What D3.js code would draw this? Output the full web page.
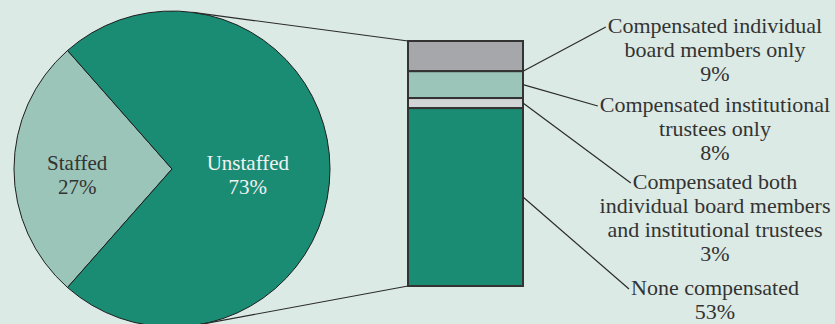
<!DOCTYPE html>
<html>
<head>
    <script src="https://d3js.org/d3.v7.min.js"></script>
    <style>
        body { margin: 0; background: #dbeae4; }
        svg { display: block; }
        text { font-family: "Liberation Serif", serif; }
    </style>
</head>
<body>
<svg id="chart" width="835" height="324"></svg>
<script>
    // pie: staffing
    const pieLabels = ["Staffed", "Unstaffed"];
    const pieValues = [27, 73];
    const pieColors = ["#9cc5b9", "#1b8c74"];

    // bar: breakdown of unstaffed, top to bottom
    const barLabels = [
        ["Compensated individual", "board members only"],
        ["Compensated institutional", "trustees only"],
        ["Compensated both", "individual board members", "and institutional trustees"],
        ["None compensated"]
    ];
    const barValues = [9, 8, 3, 53];
    const barColors = ["#a6a7ab", "#9cc5b9", "#d3d4d6", "#1b8c74"];

    const svg = d3.select("#chart");
    const cx = 172, cy = 169, r = 158;
    const ink = "#2b2b2b";

    // pie, staffed slice centred on the left side
    const staffedAngle = pieValues[0] / d3.sum(pieValues) * 2 * Math.PI;
    const pie = d3.pie().sort(null).value(d => d)
        .startAngle(-Math.PI / 2 - staffedAngle / 2)
        .endAngle(3 * Math.PI / 2 - staffedAngle / 2);
    const arc = d3.arc().innerRadius(0).outerRadius(r);
    const pieG = svg.append("g").attr("transform", `translate(${cx},${cy})`);
    const arcs = pie(pieValues);

    pieG.selectAll("path")
        .data(arcs)
        .enter().append("path")
        .attr("d", arc)
        .attr("fill", (d, i) => pieColors[i])
        .attr("stroke", "#1e1e1e")
        .attr("stroke-width", 1);

    const labelRadius = [0.6, 0.48];
    pieG.selectAll("text.pie")
        .data(arcs)
        .enter().append("text")
        .attr("class", "pie")
        .attr("text-anchor", "middle")
        .attr("font-size", 21)
        .attr("fill", (d, i) => i === 0 ? "#333" : "#f2f2f2")
        .attr("transform", (d, i) => {
            const rr = r * labelRadius[i];
            const c = d3.arc().innerRadius(rr).outerRadius(rr).centroid(d);
            return `translate(${c[0]},0)`;
        })
        .each(function (d, i) {
            const t = d3.select(this);
            t.append("tspan").attr("x", 0).attr("y", 1).text(pieLabels[i]);
            t.append("tspan").attr("x", 0).attr("y", 25).text(pieValues[i] + "%");
        });

    // stacked bar
    const barX = 408, barW = 115, barTop = 41, barBottom = 286;
    const y = d3.scaleLinear()
        .domain([0, d3.sum(barValues)])
        .range([barTop, barBottom]);
    const stacked = [];
    let acc = 0;
    barValues.forEach((v, i) => {
        stacked.push({ y0: acc, y1: acc + v, i });
        acc += v;
    });

    // tangent lines from the pie to the bar corners
    function tangent(px, py, upper) {
        const dx = px - cx, dy = py - cy;
        const d = Math.sqrt(dx * dx + dy * dy);
        const base = Math.atan2(dy, dx);
        const off = Math.acos(r / d);
        const a = upper ? base - off : base + off;
        return [cx + r * Math.cos(a), cy + r * Math.sin(a)];
    }
    const tTop = tangent(barX, y(0), true);
    const tBot = tangent(barX, y(d3.sum(barValues)), false);
    svg.append("line")
        .attr("x1", tTop[0]).attr("y1", tTop[1])
        .attr("x2", barX).attr("y2", y(0))
        .attr("stroke", ink).attr("stroke-width", 1.2);
    svg.append("line")
        .attr("x1", tBot[0]).attr("y1", tBot[1])
        .attr("x2", barX).attr("y2", y(d3.sum(barValues)))
        .attr("stroke", ink).attr("stroke-width", 1.2);

    svg.selectAll("rect.seg")
        .data(stacked)
        .enter().append("rect")
        .attr("class", "seg")
        .attr("x", barX)
        .attr("width", barW)
        .attr("y", d => y(d.y0))
        .attr("height", d => y(d.y1) - y(d.y0))
        .attr("fill", d => barColors[d.i])
        .attr("stroke", "#333")
        .attr("stroke-width", 2);

    // labels on the right
    const labelX = 715;
    const lineH = 24;
    const firstBaselines = [33, 112, 189, 295];
    const anchorFrac = [1, 0.5, 0.5, 0.5];

    stacked.forEach((d, i) => {
        const lines = barLabels[i].concat([barValues[i] + "%"]);
        const t = svg.append("text")
            .attr("text-anchor", "middle")
            .attr("font-size", 22)
            .attr("fill", "#333");
        lines.forEach((ln, k) => {
            t.append("tspan")
                .attr("x", labelX)
                .attr("y", firstBaselines[i] + k * lineH)
                .text(ln);
        });
        const firstW = t.select("tspan").node().getComputedTextLength();
        const ex = labelX - firstW / 2 - 2;
        const ey = firstBaselines[i] - 6;
        const sy = y(d.y0) + (y(d.y1) - y(d.y0)) * anchorFrac[i];
        svg.append("line")
            .attr("x1", barX + barW).attr("y1", sy)
            .attr("x2", ex).attr("y2", ey)
            .attr("stroke", ink).attr("stroke-width", 1.2);
    });
</script>
</body>
</html>
